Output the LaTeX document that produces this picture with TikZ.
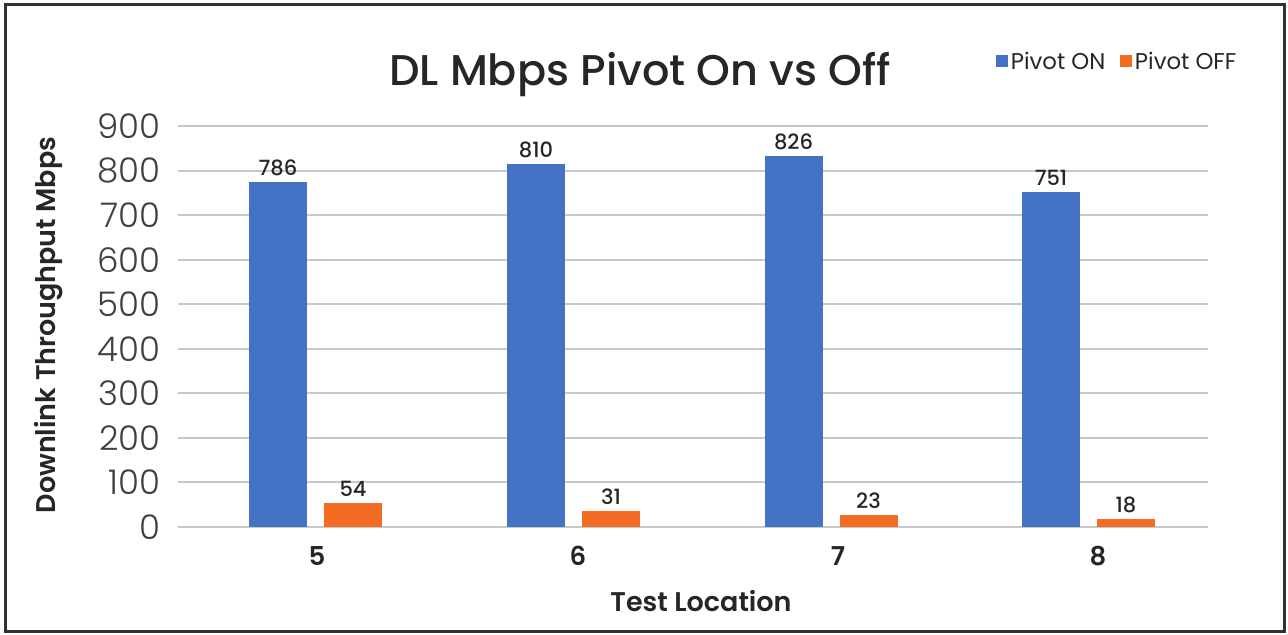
\documentclass[tikz,border=0pt]{standalone}
\usepackage{fontspec}
\setmainfont{Poppins}
\IfFontExistsTF{Poppins Light}{\newfontfamily\lightfont{Poppins Light}}{\newfontfamily\lightfont{Poppins}}
\IfFontExistsTF{Poppins Medium}{\newfontfamily\mediumfont{Poppins Medium}}{\newfontfamily\mediumfont{Poppins}}
\IfFontExistsTF{Poppins SemiBold}{\newfontfamily\semifont{Poppins SemiBold}}{\newcommand\semifont{\bfseries}}
\usepackage{tikz}
\usetikzlibrary{positioning}
\definecolor{pivoton}{RGB}{68,114,196}
\definecolor{pivotoff}{RGB}{242,108,36}
\definecolor{gridgray}{RGB}{200,200,200}
\definecolor{textdark}{RGB}{38,38,38}
\definecolor{tickgray}{RGB}{64,64,64}
\definecolor{framegray}{RGB}{50,50,50}

\begin{document}
\begin{tikzpicture}[x=0.5pt, y=-0.5pt,
  gridline/.style={draw=gridgray, line width=1pt},
  ticklabel/.style={font=\lightfont\fontsize{17}{17}\selectfont, text=tickgray, anchor=east, inner sep=0pt},
  barlabel/.style={font=\mediumfont\fontsize{10.5}{11}\selectfont, text=textdark, inner sep=0pt},
  catlabel/.style={font=\semifont\fontsize{13}{13}\selectfont, text=textdark},
  axistitle/.style={font=\semifont\fontsize{13.5}{14}\selectfont, text=textdark},
  legkey/.style={minimum size=6pt, inner sep=0pt},
  legtext/.style={font=\fontsize{11.4}{12}\selectfont, text=textdark, inner sep=0pt}]

\useasboundingbox (0,0) rectangle (1288,634);

% Frame
\draw[line width=1.5pt, framegray] (5.5,4.5) rectangle (1284.5,631.5);

% Grid and ticks
\foreach \v in {0,...,9}{
  \pgfmathsetmacro\gy{527-\v*44.56}
  \pgfmathtruncatemacro\lab{\v*100}
  \draw[gridline] (178,\gy) -- (1208,\gy);
  \node[ticklabel] (tick\v) at (161,\gy) {\lab};
}

% Bars: location / centre / drawn heights / printed values
\foreach \n/\cx/\hon/\hoff/\von/\voff in {5/278/774/54/786/54, 6/536/815/36/810/31, 7/793.5/833/27/826/23, 8/1051/752/18/751/18}{
  \fill[pivoton] (\cx-29,527) rectangle (\cx+29,{527-\hon*0.4456});
  \fill[pivotoff] (\cx+46,527) rectangle (\cx+104,{527-\hoff*0.4456});
  \coordinate (topon\n) at (\cx,{527-\hon*0.4456});
  \coordinate (topoff\n) at (\cx+75,{527-\hoff*0.4456});
  \node[barlabel, above=3pt of topon\n] (valon\n) {\von};
  \node[barlabel, above=3pt of topoff\n] (valoff\n) {\voff};
}

% Categories
\foreach \n/\cx in {5/317, 6/578, 7/838, 8/1098}
  \node[catlabel] (cat\n) at (\cx,556) {\n};

% Axis titles
\node[axistitle, rotate=90] (ylab) at (49,325) {Downlink Throughput Mbps};
\node[axistitle] (xlab) at (701,601) {Test Location};

% Title
\node[font=\mediumfont\fontsize{21.5}{22}\selectfont, text=textdark, anchor=base] (title) at (640,85) {DL Mbps Pivot On vs Off};

% Legend
\node[legkey, fill=pivoton] (keyon) at (1002,60.5) {};
\node[legtext, right=1pt of keyon] (legon) {Pivot ON};
\node[legkey, fill=pivotoff, right=7pt of legon] (keyoff) {};
\node[legtext, right=1pt of keyoff] (legoff) {Pivot OFF};

\end{tikzpicture}
\end{document}
